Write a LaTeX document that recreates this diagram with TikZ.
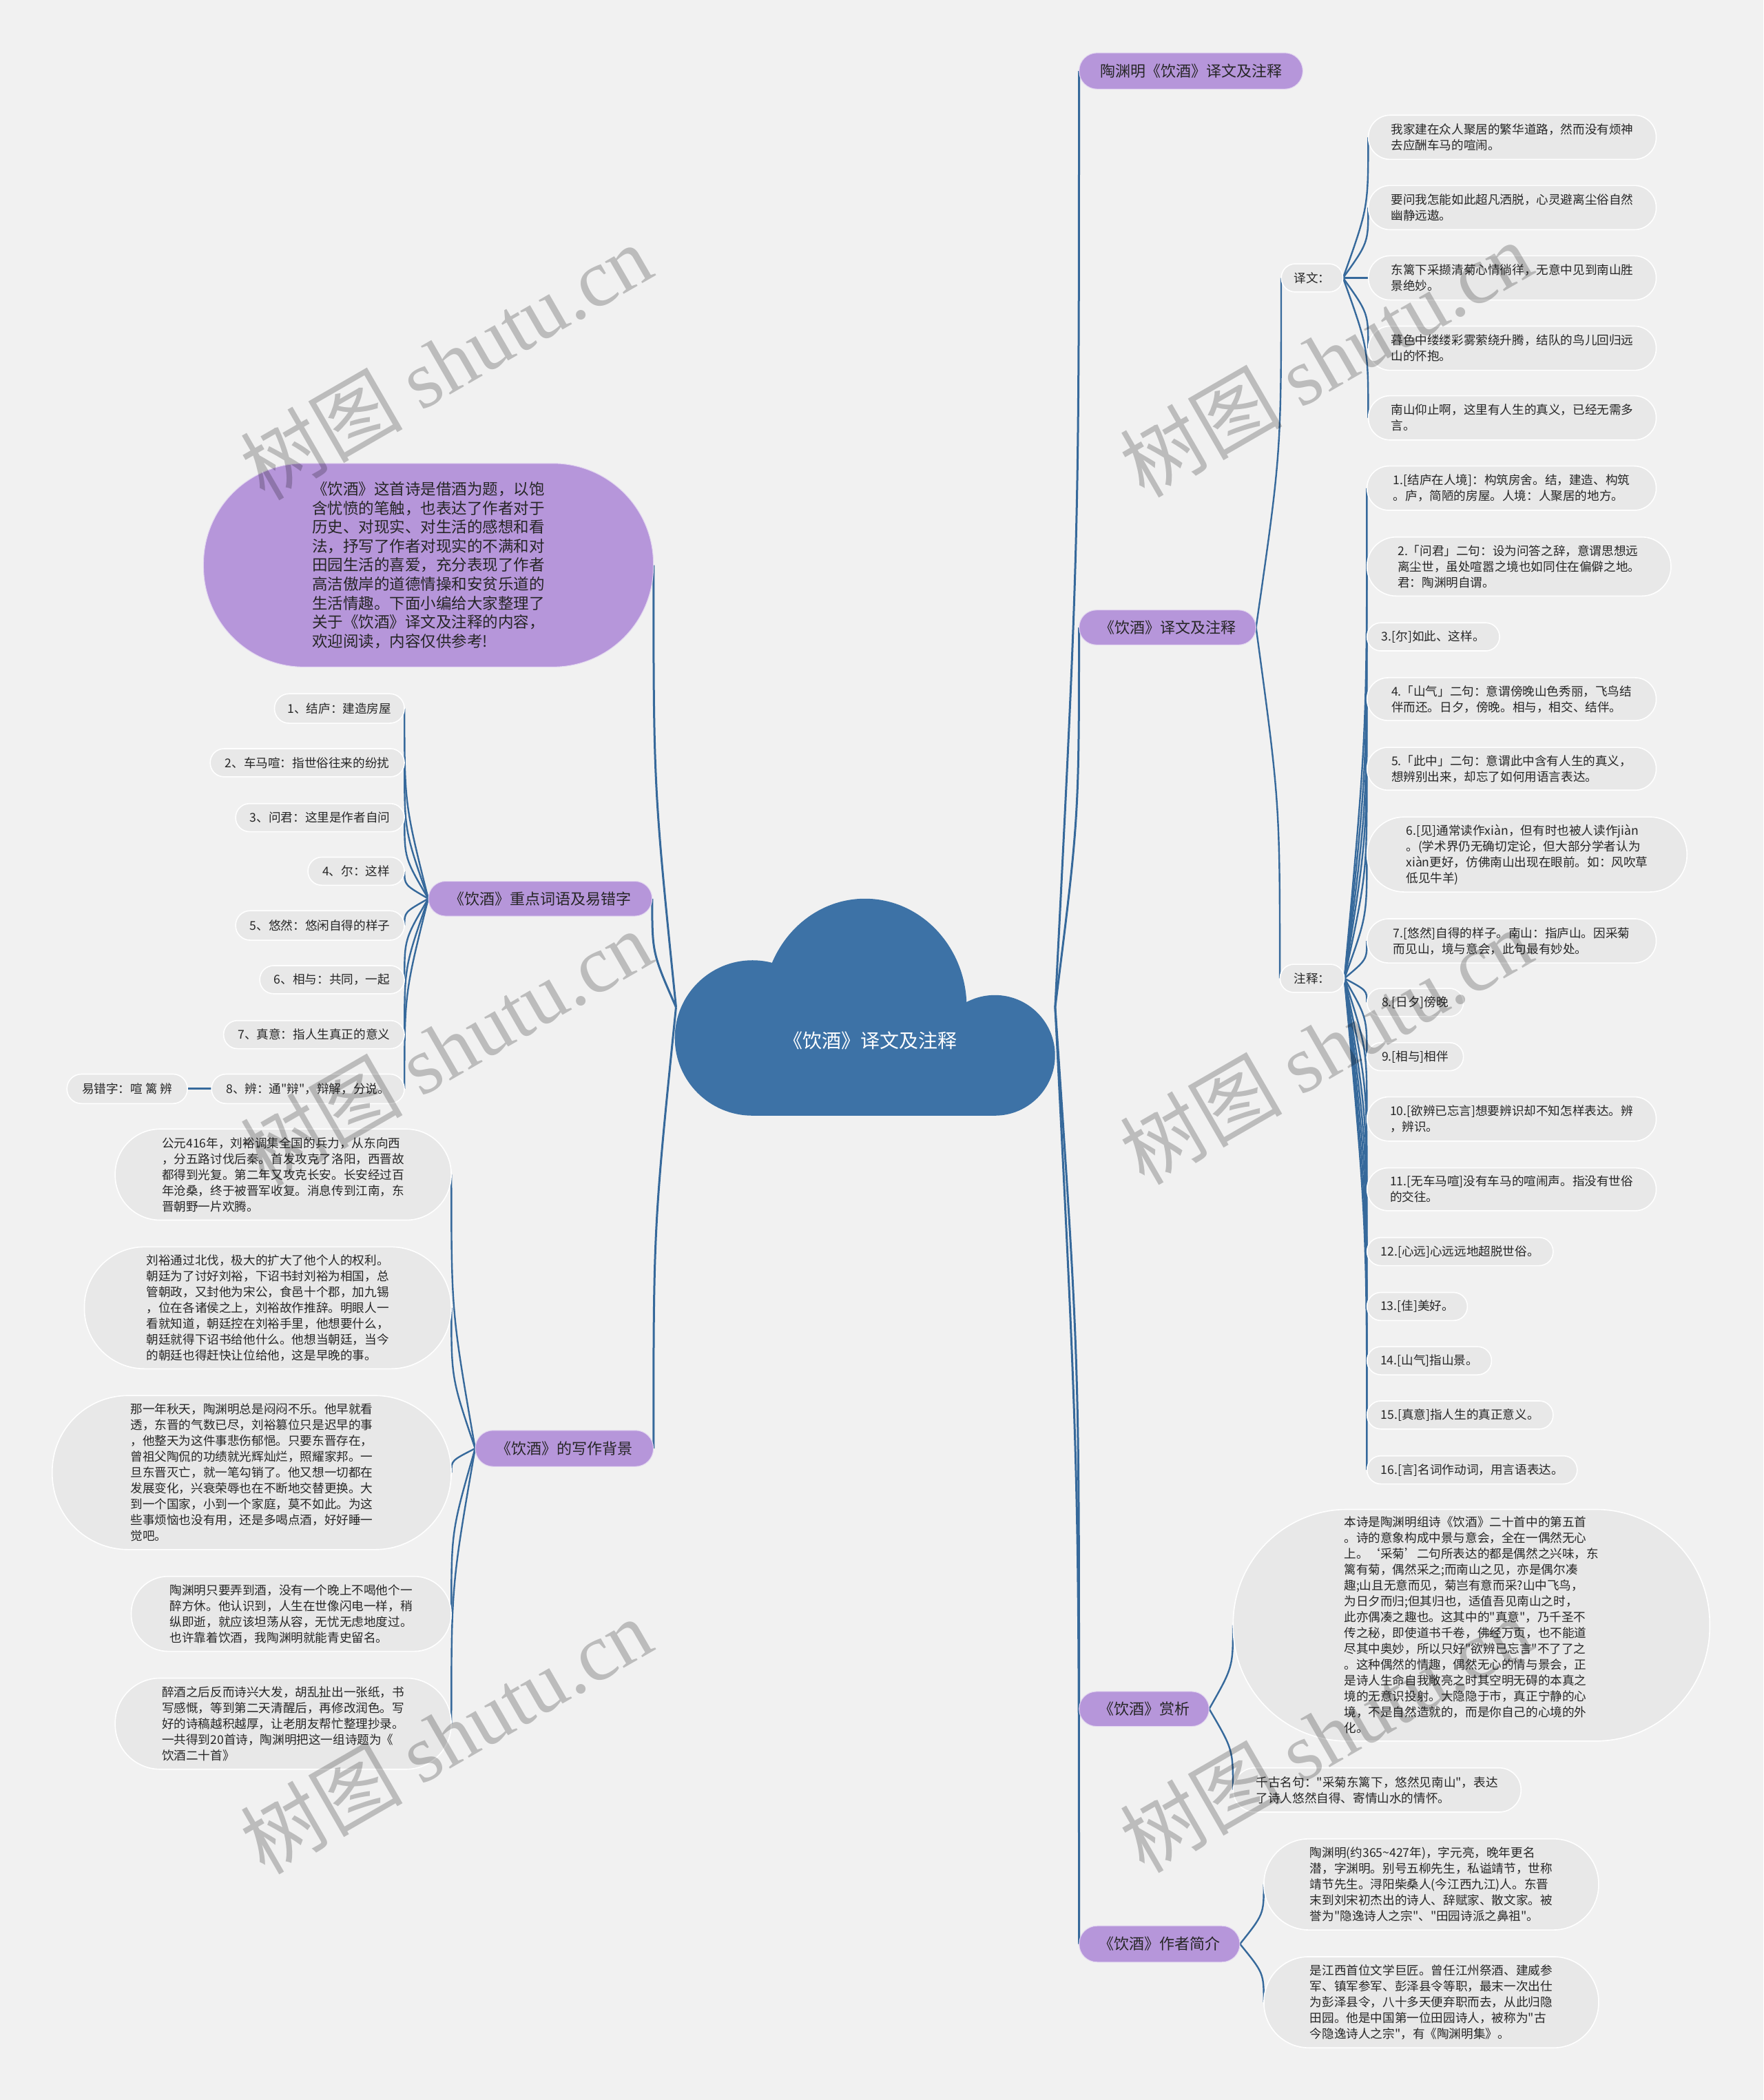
\documentclass[tikz,border=0pt]{standalone}
\usepackage{fontspec}
\setmainfont{Noto Sans CJK SC}[Ligatures=TeXOff]
\newfontfamily\wmlatin{Liberation Serif}
\usetikzlibrary{calc}
\definecolor{bgc}{HTML}{F1F1F1}
\definecolor{cloudc}{HTML}{3D72A6}
\definecolor{linkc}{HTML}{36699B}
\definecolor{purp}{HTML}{B696DA}
\definecolor{leafc}{HTML}{E8E8E8}
\definecolor{txtc}{HTML}{262626}
\pgfdeclarelayer{back}\pgfdeclarelayer{links}\pgfsetlayers{back,links,main}
\tikzset{
 lk/.style={draw=linkc, line width=2.4pt},
 trunk/.style={draw=linkc, line width=3pt},
 leafbg/.style={fill=leafc, draw=white, line width=1.6pt},
 mainbg/.style={fill=purp, draw=white!60!purp, line width=1pt},
 lt/.style={font=\fontsize{17.6}{23}\selectfont, text=txtc, align=left, inner sep=0pt},
 mt/.style={font=\fontsize{22}{27}\selectfont, text=txtc, align=left, inner sep=0pt},
 wm/.style={rotate=30, text=black, text opacity=0.22, font=\fontsize{118}{118}\selectfont, inner sep=0pt},
}
% name, cx, cy, w, h, bg style, text style, text
\newcommand\pill[8]{%
 \path[#6, rounded corners={#5*0.96pt}] ({#2-#4/2},{#3-#5/2}) rectangle ({#2+#4/2},{#3+#5/2});
 \node[#7, minimum width={#4*1.944pt}, minimum height={#5*1.944pt}] (#1) at (#2,#3) {#8};
}
\newcommand\lnk[3][lk]{%
 \path (#2) -- coordinate[pos=.5] (lm) (#3);
 \draw[#1] (#2) .. controls (#3 |- lm) and (#3 |- lm) .. (#3);
}
\begin{document}
\begin{tikzpicture}[x=1.9438pt,y=-1.9445pt]
\begin{pgfonlayer}{back}
\fill[bgc] (0,0) rectangle (1317,1568);
\end{pgfonlayer}
\useasboundingbox (0,0) rectangle (1317,1568);

% cloud
\fill[cloudc] (562,775) circle[radius=58];
\fill[cloudc] (743,788) circle[radius=45];
\fill[cloudc] (646,752) ellipse[x radius=76, y radius=81];
\fill[cloudc] (562,760) rectangle (743,833);
\node[minimum width=550pt, minimum height=315pt, inner sep=0pt] (cloud) at (646.5,752) {};
\node[font=\fontsize{28}{30}\selectfont, text=white] (title) at (650,777) {《饮酒》译文及注释};

% right main nodes
\pill{m1}{889.5}{53}{167}{27}{mainbg}{mt}{陶渊明《饮酒》译文及注释}
\pill{m2}{872}{468.5}{132}{26}{mainbg}{mt}{《饮酒》译文及注释}
\pill{m3}{854.5}{1276}{97}{26}{mainbg}{mt}{《饮酒》赏析}
\pill{m4}{866}{1451.5}{120}{27}{mainbg}{mt}{《饮酒》作者简介}

\pill{s1}{980}{207.5}{46}{21}{leafbg}{lt}{译文：}
\pill{s2}{980}{730.5}{48}{21}{leafbg}{lt}{注释：}

\pill{L1}{1129.5}{102.5}{215}{33}{leafbg}{lt}{我家建在众人聚居的繁华道路，然而没有烦神\\去应酬车马的喧闹。}
\pill{L2}{1129.5}{155}{215}{33}{leafbg}{lt}{要问我怎能如此超凡洒脱，心灵避离尘俗自然\\幽静远遨。}
\pill{L3}{1129.5}{207.5}{215}{33}{leafbg}{lt}{东篱下采撷清菊心情徜徉，无意中见到南山胜\\景绝妙。}
\pill{L4}{1129.5}{260}{215}{33}{leafbg}{lt}{暮色中缕缕彩雾萦绕升腾，结队的鸟儿回归远\\山的怀抱。}
\pill{L5}{1129.5}{312}{215}{33}{leafbg}{lt}{南山仰止啊，这里有人生的真义，已经无需多\\言。}

\pill{N1}{1129}{364.5}{216}{33}{leafbg}{lt}{1.[结庐在人境]：构筑房舍。结，建造、构筑\\。庐，简陋的房屋。人境：人聚居的地方。}
\pill{N2}{1134.5}{423}{227}{44}{leafbg}{lt}{2.「问君」二句：设为问答之辞，意谓思想远\\离尘世，虽处喧嚣之境也如同住在偏僻之地。\\君：陶渊明自谓。}
\pill{N3}{1070.5}{475.5}{99}{21}{leafbg}{lt}{3.[尔]如此、这样。}
\pill{N4}{1129}{522}{216}{32}{leafbg}{lt}{4.「山气」二句：意谓傍晚山色秀丽，飞鸟结\\伴而还。日夕，傍晚。相与，相交、结伴。}
\pill{N5}{1129}{574}{216}{32}{leafbg}{lt}{5.「此中」二句：意谓此中含有人生的真义，\\想辨别出来，却忘了如何用语言表达。}
\pill{N6}{1140.5}{638}{239}{56}{leafbg}{lt}{6.[见]通常读作xiàn，但有时也被人读作jiàn\\。(学术界仍无确切定论，但大部分学者认为\\xiàn更好，仿佛南山出现在眼前。如：风吹草\\低见牛羊)}
\pill{N7}{1129}{702.5}{216}{33}{leafbg}{lt}{7.[悠然]自得的样子。南山：指庐山。因采菊\\而见山，境与意会，此句最有妙处。}
\pill{N8}{1057}{748.5}{72}{21}{leafbg}{lt}{8.[日夕]傍晚}
\pill{N9}{1057}{789}{72}{21}{leafbg}{lt}{9.[相与]相伴}
\pill{N10}{1129}{835.5}{216}{33}{leafbg}{lt}{10.[欲辨已忘言]想要辨识却不知怎样表达。辨\\，辨识。}
\pill{N11}{1129}{888}{216}{32}{leafbg}{lt}{11.[无车马喧]没有车马的喧闹声。指没有世俗\\的交往。}
\pill{N12}{1090.5}{934.5}{139}{21}{leafbg}{lt}{12.[心远]心远远地超脱世俗。}
\pill{N13}{1058.5}{975.5}{75}{21}{leafbg}{lt}{13.[佳]美好。}
\pill{N14}{1067.5}{1016}{93}{21}{leafbg}{lt}{14.[山气]指山景。}
\pill{N15}{1090.5}{1056.5}{139}{21}{leafbg}{lt}{15.[真意]指人生的真正意义。}
\pill{N16}{1099.5}{1097.5}{157}{21}{leafbg}{lt}{16.[言]名词作动词，用言语表达。}

\pill{S1}{1099}{1213.5}{356}{173}{leafbg}{lt}{本诗是陶渊明组诗《饮酒》二十首中的第五首\\。诗的意象构成中景与意会，全在一偶然无心\\上。‘采菊’二句所表达的都是偶然之兴味，东\\篱有菊，偶然采之;而南山之见，亦是偶尔凑\\趣;山且无意而见，菊岂有意而采?山中飞鸟，\\为日夕而归;但其归也，适值吾见南山之时，\\此亦偶凑之趣也。这其中的"真意"，乃千圣不\\传之秘，即使道书千卷，佛经万页，也不能道\\尽其中奥妙，所以只好"欲辨已忘言"不了了之\\。这种偶然的情趣，偶然无心的情与景会，正\\是诗人生命自我敞亮之时其空明无碍的本真之\\境的无意识投射。大隐隐于市，真正宁静的心\\境，不是自然造就的，而是你自己的心境的外\\化。}
\pill{S2}{1028.5}{1336.5}{215}{33}{leafbg}{lt}{千古名句："采菊东篱下，悠然见南山"，表达\\了诗人悠然自得、寄情山水的情怀。}

\pill{A1}{1069}{1407}{250}{68}{leafbg}{lt}{陶渊明(约365\textasciitilde427年)，字元亮，晚年更名\\潜，字渊明。别号五柳先生，私谥靖节，世称\\靖节先生。浔阳柴桑人(今江西九江)人。东晋\\末到刘宋初杰出的诗人、辞赋家、散文家。被\\誉为"隐逸诗人之宗"、"田园诗派之鼻祖"。}
\pill{A2}{1069}{1495}{250}{68}{leafbg}{lt}{是江西首位文学巨匠。曾任江州祭酒、建威参\\军、镇军参军、彭泽县令等职，最末一次出仕\\为彭泽县令，八十多天便弃职而去，从此归隐\\田园。他是中国第一位田园诗人，被称为"古\\今隐逸诗人之宗"，有《陶渊明集》。}

% left side
\pill{intro}{320}{422}{336}{152}{mainbg}{font=\fontsize{22.5}{27.6}\selectfont, text=txtc, align=left, inner sep=0pt}{《饮酒》这首诗是借酒为题，以饱\\含忧愤的笔触，也表达了作者对于\\历史、对现实、对生活的感想和看\\法，抒写了作者对现实的不满和对\\田园生活的喜爱，充分表现了作者\\高洁傲岸的道德情操和安贫乐道的\\生活情趣。下面小编给大家整理了\\关于《饮酒》译文及注释的内容，\\欢迎阅读，内容仅供参考!}
\pill{m5}{403.5}{671}{167}{26}{mainbg}{mt}{《饮酒》重点词语及易错字}
\pill{m6}{421.5}{1081.5}{133}{27}{mainbg}{mt}{《饮酒》的写作背景}

\pill{K1}{253.5}{529}{97}{22}{leafbg}{lt}{1、结庐：建造房屋}
\pill{K2}{229.5}{569.5}{145}{21}{leafbg}{lt}{2、车马喧：指世俗往来的纷扰}
\pill{K3}{239}{610.5}{126}{21}{leafbg}{lt}{3、问君：这里是作者自问}
\pill{K4}{266}{650.5}{72}{21}{leafbg}{lt}{4、尔：这样}
\pill{K5}{239}{691}{126}{22}{leafbg}{lt}{5、悠然：悠闲自得的样子}
\pill{K6}{248}{731.5}{108}{21}{leafbg}{lt}{6、相与：共同，一起}
\pill{K7}{234.5}{772.5}{135}{21}{leafbg}{lt}{7、真意：指人生真正的意义}
\pill{K8}{230}{813}{144}{22}{leafbg}{lt}{8、辨：通"辩"，辩解，分说。}
\pill{E}{95}{813}{90}{22}{leafbg}{lt}{易错字：喧 篱 辨}

\pill{B1}{211.5}{877}{251}{68}{leafbg}{lt}{公元416年，刘裕调集全国的兵力，从东向西\\，分五路讨伐后秦。首发攻克了洛阳，西晋故\\都得到光复。第二年又攻克长安。长安经过百\\年沧桑，终于被晋军收复。消息传到江南，东\\晋朝野一片欢腾。}
\pill{B2}{200}{976.5}{274}{91}{leafbg}{lt}{刘裕通过北伐，极大的扩大了他个人的权利。\\朝廷为了讨好刘裕，下诏书封刘裕为相国，总\\管朝政，又封他为宋公，食邑十个郡，加九锡\\，位在各诸侯之上，刘裕故作推辞。明眼人一\\看就知道，朝廷控在刘裕手里，他想要什么，\\朝廷就得下诏书给他什么。他想当朝廷，当今\\的朝廷也得赶快让位给他，这是早晚的事。}
\pill{B3}{188}{1099.5}{298}{115}{leafbg}{lt}{那一年秋天，陶渊明总是闷闷不乐。他早就看\\透，东晋的气数已尽，刘裕篡位只是迟早的事\\，他整天为这件事悲伤郁悒。只要东晋存在，\\曾祖父陶侃的功绩就光辉灿烂，照耀家邦。一\\旦东晋灭亡，就一笔勾销了。他又想一切都在\\发展变化，兴衰荣辱也在不断地交替更换。大\\到一个国家，小到一个家庭，莫不如此。为这\\些事烦恼也没有用，还是多喝点酒，好好睡一\\觉吧。}
\pill{B4}{217.5}{1205}{239}{56}{leafbg}{lt}{陶渊明只要弄到酒，没有一个晚上不喝他个一\\醉方休。他认识到，人生在世像闪电一样，稍\\纵即逝，就应该坦荡从容，无忧无虑地度过。\\也许靠着饮酒，我陶渊明就能青史留名。}
\pill{B5}{211.5}{1287}{251}{68}{leafbg}{lt}{醉酒之后反而诗兴大发，胡乱扯出一张纸，书\\写感慨，等到第二天清醒后，再修改润色。写\\好的诗稿越积越厚，让老朋友帮忙整理抄录。\\一共得到20首诗，陶渊明把这一组诗题为《\\饮酒二十首》}

% connectors
\begin{pgfonlayer}{links}
\lnk[trunk]{cloud.east}{m1.west}
\lnk[trunk]{cloud.east}{m2.west}
\lnk[trunk]{cloud.east}{m3.west}
\lnk[trunk]{cloud.east}{m4.west}
\lnk[trunk]{cloud.west}{intro.east}
\lnk[trunk]{cloud.west}{m5.east}
\lnk[trunk]{cloud.west}{m6.east}
\lnk{m2.east}{s1.west}
\lnk{m2.east}{s2.west}
\foreach \i in {1,...,5}{\lnk{s1.east}{L\i.west}}
\foreach \i in {1,...,16}{\lnk{s2.east}{N\i.west}}
\lnk{m3.east}{S1.west}
\lnk{m3.east}{S2.west}
\lnk{m4.east}{A1.west}
\lnk{m4.east}{A2.west}
\foreach \i in {1,...,8}{\lnk{m5.west}{K\i.east}}
\draw[lk, line width=3pt] (K8.west) -- (E.east);
\foreach \i in {1,...,5}{\lnk{m6.west}{B\i.east}}
\end{pgfonlayer}

% watermarks
\node[wm] (w1) at (333,270) {树图 {\wmlatin shutu.cn}};
\node[wm] (w2) at (990,268) {树图 {\wmlatin shutu.cn}};
\node[wm] (w3) at (333,782) {树图 {\wmlatin shutu.cn}};
\node[wm] (w4) at (990,781) {树图 {\wmlatin shutu.cn}};
\node[wm] (w5) at (333,1296) {树图 {\wmlatin shutu.cn}};
\node[wm] (w6) at (990,1295) {树图 {\wmlatin shutu.cn}};
\end{tikzpicture}
\end{document}
